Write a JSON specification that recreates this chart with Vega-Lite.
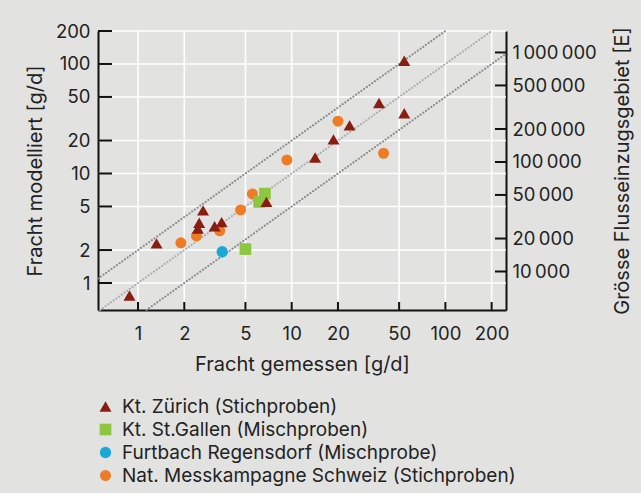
{
  "$schema": "https://vega.github.io/schema/vega-lite/v6.json",
  "width": 408,
  "height": 279,
  "autosize": {"type": "none"},
  "padding": {"left": 98, "top": 31, "right": 135, "bottom": 183},
  "background": "#e2e3e1",
  "config": {
    "font": "Inter",
    "view": {"stroke": null},
    "axis": {
      "labelFont": "Inter", "labelFontSize": 18.5, "labelColor": "#222222",
      "titleFont": "Inter", "titleFontSize": 20, "titleFontWeight": "normal", "titleColor": "#222222",
      "domainColor": "#111111", "domainWidth": 2
    },
    "legend": {
      "labelFont": "Inter", "labelFontSize": 19, "labelColor": "#222222", "labelLimit": 0,
      "symbolSize": 80, "labelOffset": 7, "rowPadding": 3, "padding": 0
    }
  },
  "datasets": {
    "gitter": [
      {"gemessen": 1}, {"gemessen": 2}, {"gemessen": 5}, {"gemessen": 10},
      {"gemessen": 20}, {"gemessen": 50}, {"gemessen": 100}, {"gemessen": 200}
    ],
    "gitterY": [
      {"modelliert": 1}, {"modelliert": 2}, {"modelliert": 5}, {"modelliert": 10},
      {"modelliert": 20}, {"modelliert": 50}, {"modelliert": 100}, {"modelliert": 200}
    ],
    "rechts": [
      {"modelliert": 1.27389}, {"modelliert": 2.54777}, {"modelliert": 6.36943}, {"modelliert": 12.7389},
      {"modelliert": 25.4777}, {"modelliert": 63.6943}, {"modelliert": 127.389}
    ],
    "aussen": [
      {"gemessen": 0.549, "modelliert": 1.098, "linie": "2x"},
      {"gemessen": 100, "modelliert": 200, "linie": "2x"},
      {"gemessen": 1.134, "modelliert": 0.567, "linie": "x/2"},
      {"gemessen": 248, "modelliert": 124, "linie": "x/2"}
    ],
    "mitte": [
      {"gemessen": 0.567, "modelliert": 0.567, "linie": "x"},
      {"gemessen": 200, "modelliert": 200, "linie": "x"}
    ],
    "punkte": [
      {"gemessen": 1.9, "modelliert": 2.33, "quelle": "Nat. Messkampagne Schweiz (Stichproben)"},
      {"gemessen": 2.4, "modelliert": 2.7, "quelle": "Nat. Messkampagne Schweiz (Stichproben)"},
      {"gemessen": 3.4, "modelliert": 3.0, "quelle": "Nat. Messkampagne Schweiz (Stichproben)"},
      {"gemessen": 4.65, "modelliert": 4.65, "quelle": "Nat. Messkampagne Schweiz (Stichproben)"},
      {"gemessen": 5.55, "modelliert": 6.5, "quelle": "Nat. Messkampagne Schweiz (Stichproben)"},
      {"gemessen": 9.3, "modelliert": 13.3, "quelle": "Nat. Messkampagne Schweiz (Stichproben)"},
      {"gemessen": 20, "modelliert": 30, "quelle": "Nat. Messkampagne Schweiz (Stichproben)"},
      {"gemessen": 39.6, "modelliert": 15.3, "quelle": "Nat. Messkampagne Schweiz (Stichproben)"},
      {"gemessen": 3.53, "modelliert": 1.93, "quelle": "Furtbach Regensdorf (Mischprobe)"},
      {"gemessen": 5.0, "modelliert": 2.04, "quelle": "Kt. St.Gallen (Mischproben)"},
      {"gemessen": 6.15, "modelliert": 5.5, "quelle": "Kt. St.Gallen (Mischproben)"},
      {"gemessen": 6.7, "modelliert": 6.55, "quelle": "Kt. St.Gallen (Mischproben)"},
      {"gemessen": 0.88, "modelliert": 0.77, "quelle": "Kt. Zürich (Stichproben)"},
      {"gemessen": 1.32, "modelliert": 2.3, "quelle": "Kt. Zürich (Stichproben)"},
      {"gemessen": 2.65, "modelliert": 4.6, "quelle": "Kt. Zürich (Stichproben)"},
      {"gemessen": 2.5, "modelliert": 3.55, "quelle": "Kt. Zürich (Stichproben)"},
      {"gemessen": 2.45, "modelliert": 3.15, "quelle": "Kt. Zürich (Stichproben)"},
      {"gemessen": 3.15, "modelliert": 3.3, "quelle": "Kt. Zürich (Stichproben)"},
      {"gemessen": 3.5, "modelliert": 3.6, "quelle": "Kt. Zürich (Stichproben)"},
      {"gemessen": 6.85, "modelliert": 5.5, "quelle": "Kt. Zürich (Stichproben)"},
      {"gemessen": 14.2, "modelliert": 14, "quelle": "Kt. Zürich (Stichproben)"},
      {"gemessen": 18.7, "modelliert": 20.5, "quelle": "Kt. Zürich (Stichproben)"},
      {"gemessen": 23.8, "modelliert": 27.5, "quelle": "Kt. Zürich (Stichproben)"},
      {"gemessen": 37, "modelliert": 44, "quelle": "Kt. Zürich (Stichproben)"},
      {"gemessen": 54, "modelliert": 35.5, "quelle": "Kt. Zürich (Stichproben)"},
      {"gemessen": 54, "modelliert": 107, "quelle": "Kt. Zürich (Stichproben)"}
    ]
  },
  "layer": [
    {
      "data": {"name": "gitter"},
      "mark": {"type": "tick", "orient": "vertical", "color": "#ffffff", "opacity": 1, "size": 279, "thickness": 1.6},
      "encoding": {
        "x": {"field": "gemessen", "type": "quantitative", "scale": {"type": "log", "domain": [0.549, 248], "nice": false},
          "axis": {"title": "Fracht gemessen [g/d]", "values": [1, 2, 5, 10, 20, 50, 100, 200], "format": "d", "grid": false, "ticks": false, "labelPadding": 14, "titlePadding": 12}},
        "y": {"datum": 10.65, "type": "quantitative", "scale": {"type": "log", "domain": [0.567, 200], "nice": false}, "axis": null}
      }
    },
    {
      "data": {"name": "gitterY"},
      "mark": {"type": "tick", "orient": "horizontal", "color": "#ffffff", "opacity": 1, "size": 408, "thickness": 1.6},
      "encoding": {
        "x": {"datum": 11.67, "type": "quantitative", "scale": {"type": "log", "domain": [0.549, 248], "nice": false},
          "axis": {"title": "Fracht gemessen [g/d]", "values": [1, 2, 5, 10, 20, 50, 100, 200], "format": "d", "grid": false, "ticks": false, "labelPadding": 14, "titlePadding": 12}},
        "y": {"field": "modelliert", "type": "quantitative", "scale": {"type": "log", "domain": [0.567, 200], "nice": false}, "axis": null}
      }
    },
    {
      "data": {"name": "aussen"},
      "mark": {"type": "line", "color": "#86898c", "strokeWidth": 2, "strokeCap": "round", "strokeDash": [0.2, 3.1]},
      "encoding": {
        "x": {"field": "gemessen", "type": "quantitative", "scale": {"type": "log", "domain": [0.549, 248], "nice": false},
          "axis": {"title": "Fracht gemessen [g/d]", "values": [1, 2, 5, 10, 20, 50, 100, 200], "format": "d", "grid": false, "ticks": false, "labelPadding": 14, "titlePadding": 12}},
        "y": {"field": "modelliert", "type": "quantitative", "scale": {"type": "log", "domain": [0.567, 200], "nice": false}, "axis": null},
        "detail": {"field": "linie"}
      }
    },
    {
      "data": {"name": "mitte"},
      "mark": {"type": "line", "color": "#a9abae", "strokeWidth": 2, "strokeCap": "round", "strokeDash": [0.2, 3.1]},
      "encoding": {
        "x": {"field": "gemessen", "type": "quantitative", "scale": {"type": "log", "domain": [0.549, 248], "nice": false},
          "axis": {"title": "Fracht gemessen [g/d]", "values": [1, 2, 5, 10, 20, 50, 100, 200], "format": "d", "grid": false, "ticks": false, "labelPadding": 14, "titlePadding": 12}},
        "y": {"field": "modelliert", "type": "quantitative", "scale": {"type": "log", "domain": [0.567, 200], "nice": false}, "axis": null}
      }
    },
    {
      "data": {"name": "punkte"},
      "mark": {"type": "point", "filled": true, "opacity": 1, "strokeWidth": 0},
      "encoding": {
        "x": {"field": "gemessen", "type": "quantitative", "scale": {"type": "log", "domain": [0.549, 248], "nice": false},
          "axis": {"title": "Fracht gemessen [g/d]", "values": [1, 2, 5, 10, 20, 50, 100, 200], "format": "d", "grid": false, "ticks": false, "labelPadding": 14, "titlePadding": 12}},
        "y": {
          "field": "modelliert", "type": "quantitative",
          "scale": {"type": "log", "domain": [0.567, 200], "nice": false},
          "axis": {"title": "Fracht modelliert [g/d]", "orient": "left", "values": [1, 2, 5, 10, 20, 50, 100, 200], "format": "d", "grid": false, "ticks": false, "labelPadding": 8, "titlePadding": 10}
        },
        "color": {
          "field": "quelle", "type": "nominal",
          "scale": {
            "domain": ["Kt. Zürich (Stichproben)", "Kt. St.Gallen (Mischproben)", "Furtbach Regensdorf (Mischprobe)", "Nat. Messkampagne Schweiz (Stichproben)"],
            "range": ["#8a1d12", "#8dc63f", "#1aa9d5", "#ef7b24"]
          },
          "legend": {"title": null, "orient": "none", "legendX": -2, "legendY": 366}
        },
        "shape": {
          "field": "quelle", "type": "nominal",
          "scale": {
            "domain": ["Kt. Zürich (Stichproben)", "Kt. St.Gallen (Mischproben)", "Furtbach Regensdorf (Mischprobe)", "Nat. Messkampagne Schweiz (Stichproben)"],
            "range": ["triangle-up", "square", "circle", "circle"]
          },
          "legend": {"title": null, "orient": "none", "legendX": -2, "legendY": 366}
        },
        "size": {
          "field": "quelle", "type": "nominal",
          "scale": {
            "domain": ["Kt. Zürich (Stichproben)", "Kt. St.Gallen (Mischproben)", "Furtbach Regensdorf (Mischprobe)", "Nat. Messkampagne Schweiz (Stichproben)"],
            "range": [144, 121, 113, 113]
          },
          "legend": null
        }
      }
    },
    {
      "data": {"name": "gitter"},
      "mark": {"type": "tick", "orient": "vertical", "color": "#111111", "opacity": 1, "size": 8, "thickness": 2, "yOffset": -4},
      "encoding": {
        "x": {"field": "gemessen", "type": "quantitative", "scale": {"type": "log", "domain": [0.549, 248], "nice": false},
          "axis": {"title": "Fracht gemessen [g/d]", "values": [1, 2, 5, 10, 20, 50, 100, 200], "format": "d", "grid": false, "ticks": false, "labelPadding": 14, "titlePadding": 12}},
        "y": {"datum": 0.567, "type": "quantitative", "scale": {"type": "log", "domain": [0.567, 200], "nice": false}, "axis": null}
      }
    },
    {
      "data": {"name": "gitterY"},
      "mark": {"type": "tick", "orient": "horizontal", "color": "#111111", "opacity": 1, "size": 14, "thickness": 2, "xOffset": 7},
      "encoding": {
        "x": {"datum": 0.549, "type": "quantitative", "scale": {"type": "log", "domain": [0.549, 248], "nice": false},
          "axis": {"title": "Fracht gemessen [g/d]", "values": [1, 2, 5, 10, 20, 50, 100, 200], "format": "d", "grid": false, "ticks": false, "labelPadding": 14, "titlePadding": 12}},
        "y": {"field": "modelliert", "type": "quantitative", "scale": {"type": "log", "domain": [0.567, 200], "nice": false}, "axis": null}
      }
    },
    {
      "data": {"name": "rechts"},
      "mark": {"type": "tick", "orient": "horizontal", "color": "#111111", "opacity": 1, "size": 11, "thickness": 2, "xOffset": -5.5},
      "encoding": {
        "x": {"datum": 248, "type": "quantitative", "scale": {"type": "log", "domain": [0.549, 248], "nice": false},
          "axis": {"title": "Fracht gemessen [g/d]", "values": [1, 2, 5, 10, 20, 50, 100, 200], "format": "d", "grid": false, "ticks": false, "labelPadding": 14, "titlePadding": 12}},
        "y": {
          "field": "modelliert", "type": "quantitative",
          "scale": {"type": "log", "domain": [0.567, 200], "nice": false},
          "axis": {
            "title": "Grösse Flusseinzugsgebiet [E]", "orient": "right", "grid": false, "ticks": false,
            "values": [1.27389, 2.54777, 6.36943, 12.7389, 25.4777, 63.6943, 127.389],
            "labelExpr": "replace(format(round(datum.value * 7850 / 10000) * 10000, ','), regexp(',', 'g'), '\u2009')",
            "labelPadding": 6, "titlePadding": 16,
            "titleAngle": 270, "titleBaseline": "top"
          }
        }
      }
    }
  ],
  "resolve": {"axis": {"y": "independent"}}
}
